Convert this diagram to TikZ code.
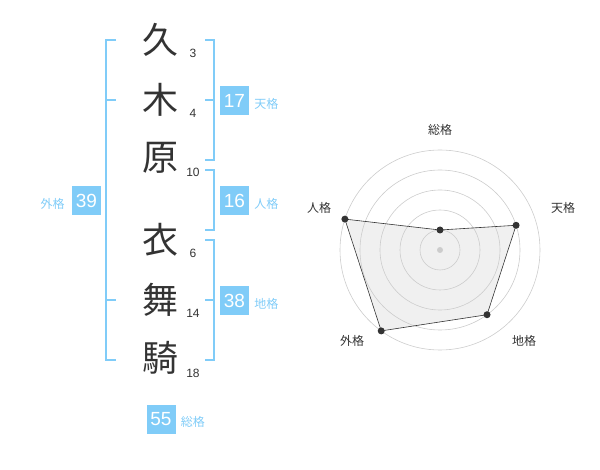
\documentclass[tikz,border=0pt]{standalone}
\usepackage{fontspec}
\setmainfont{Noto Sans CJK JP}
\newfontfamily\numfont{Liberation Sans}
\usetikzlibrary{positioning,calc}
\definecolor{kakublue}{HTML}{80CCF8}
\definecolor{inkgray}{HTML}{333333}
\definecolor{gridgray}{HTML}{CCCCCC}

\begin{document}
\begin{tikzpicture}[
      x=1pt, y=-1pt, % <-- PIXEL-LIKE UNITS, Y DOWNWARD
      kanji/.style={text=inkgray, font=\fontsize{36}{36}\selectfont, inner sep=0pt},
      strokes/.style={text=inkgray, font=\numfont\fontsize{12}{12}\selectfont, inner sep=0pt},
      scorebox/.style={fill=kakublue, text=white, minimum size=29pt, inner sep=0pt, font=\numfont\fontsize{19}{19}\selectfont},
      kakulabel/.style={text=kakublue, font=\fontsize{12}{12}\selectfont, inner sep=0pt},
      bracket/.style={draw=kakublue, line width=1.6pt},
      ring/.style={draw=gridgray, line width=0.6pt},
      axislabel/.style={text=inkgray, font=\fontsize{12}{12}\selectfont, inner sep=0pt},
      vertex/.style={circle, fill=inkgray, minimum size=7pt, inner sep=0pt}
    ]
    \useasboundingbox (0,0) rectangle (600,470);

    % Name, one character per row
    \node[kanji] (k1) at (160,40) {久};
    \node[kanji] (k2) at (160,100) {木};
    \node[kanji] (k3) at (160,158) {原};
    \node[kanji] (k4) at (160,240) {衣};
    \node[kanji] (k5) at (160,300) {舞};
    \node[kanji] (k6) at (160,358) {騎};

    % Stroke counts
    \node[strokes] (s1) at (193,53) {3};
    \node[strokes] (s2) at (193,113) {4};
    \node[strokes] (s3) at (193,172) {10};
    \node[strokes] (s4) at (193,253) {6};
    \node[strokes] (s5) at (193,313) {14};
    \node[strokes] (s6) at (193,373) {18};

    % Brackets
    \draw[bracket] (116,40) -- (106,40) -- (106,360) -- (116,360);
    \draw[bracket] (106,100) -- (116,100) (106,300) -- (116,300);
    \draw[bracket] (205,40) -- (214,40) -- (214,160) -- (205,160);
    \draw[bracket] (205,100) -- (214,100);
    \draw[bracket] (205,170) -- (214,170) -- (214,230) -- (205,230);
    \draw[bracket] (205,240) -- (214,240) -- (214,360) -- (205,360);
    \draw[bracket] (205,300) -- (214,300);

    % Scores
    \node[scorebox] (ten) at (234.5,100.5) {17};
    \node[kakulabel, right=5pt of ten, yshift=-3pt] (tenlbl) {天格};
    \node[scorebox] (jin) at (234.5,200.5) {16};
    \node[kakulabel, right=5pt of jin, yshift=-3pt] (jinlbl) {人格};
    \node[scorebox] (chi) at (234.5,300.5) {38};
    \node[kakulabel, right=5pt of chi, yshift=-3pt] (chilbl) {地格};
    \node[scorebox] (gai) at (86.5,200.5) {39};
    \node[kakulabel, left=7pt of gai, yshift=-3pt] (gailbl) {外格};
    \node[scorebox] (sou) at (161,419) {55};
    \node[kakulabel, right=5pt of sou, yshift=-3pt] (soulbl) {総格};

    % Radar chart
    \coordinate (c) at (440,250);
    \coordinate (vsou) at ($(c)+(90:20pt)$);
    \coordinate (vten) at ($(c)+(18:80pt)$);
    \coordinate (vchi) at ($(c)+(-54:80pt)$);
    \coordinate (vgai) at ($(c)+(234:100pt)$);
    \coordinate (vjin) at ($(c)+(162:100pt)$);
    \fill[black, fill opacity=0.06] (vsou) -- (vten) -- (vchi) -- (vgai) -- (vjin) -- cycle;
    \foreach \r in {20,40,...,100}
      \draw[ring] (c) circle[radius=\r pt];
    \fill[gridgray] (c) circle[radius=3pt];
    \draw[inkgray, line width=0.6pt] (vsou) -- (vten) -- (vchi) -- (vgai) -- (vjin) -- cycle;
    \foreach \v in {vsou,vten,vchi,vgai,vjin}
      \node[vertex] at (\v) {};

    \node[axislabel] (asou) at (440,130) {総格};
    \node[axislabel] (aten) at (563,208) {天格};
    \node[axislabel] (achi) at (524,341) {地格};
    \node[axislabel] (agai) at (352,341) {外格};
    \node[axislabel] (ajin) at (319,208) {人格};

  \end{tikzpicture}
\end{document}
